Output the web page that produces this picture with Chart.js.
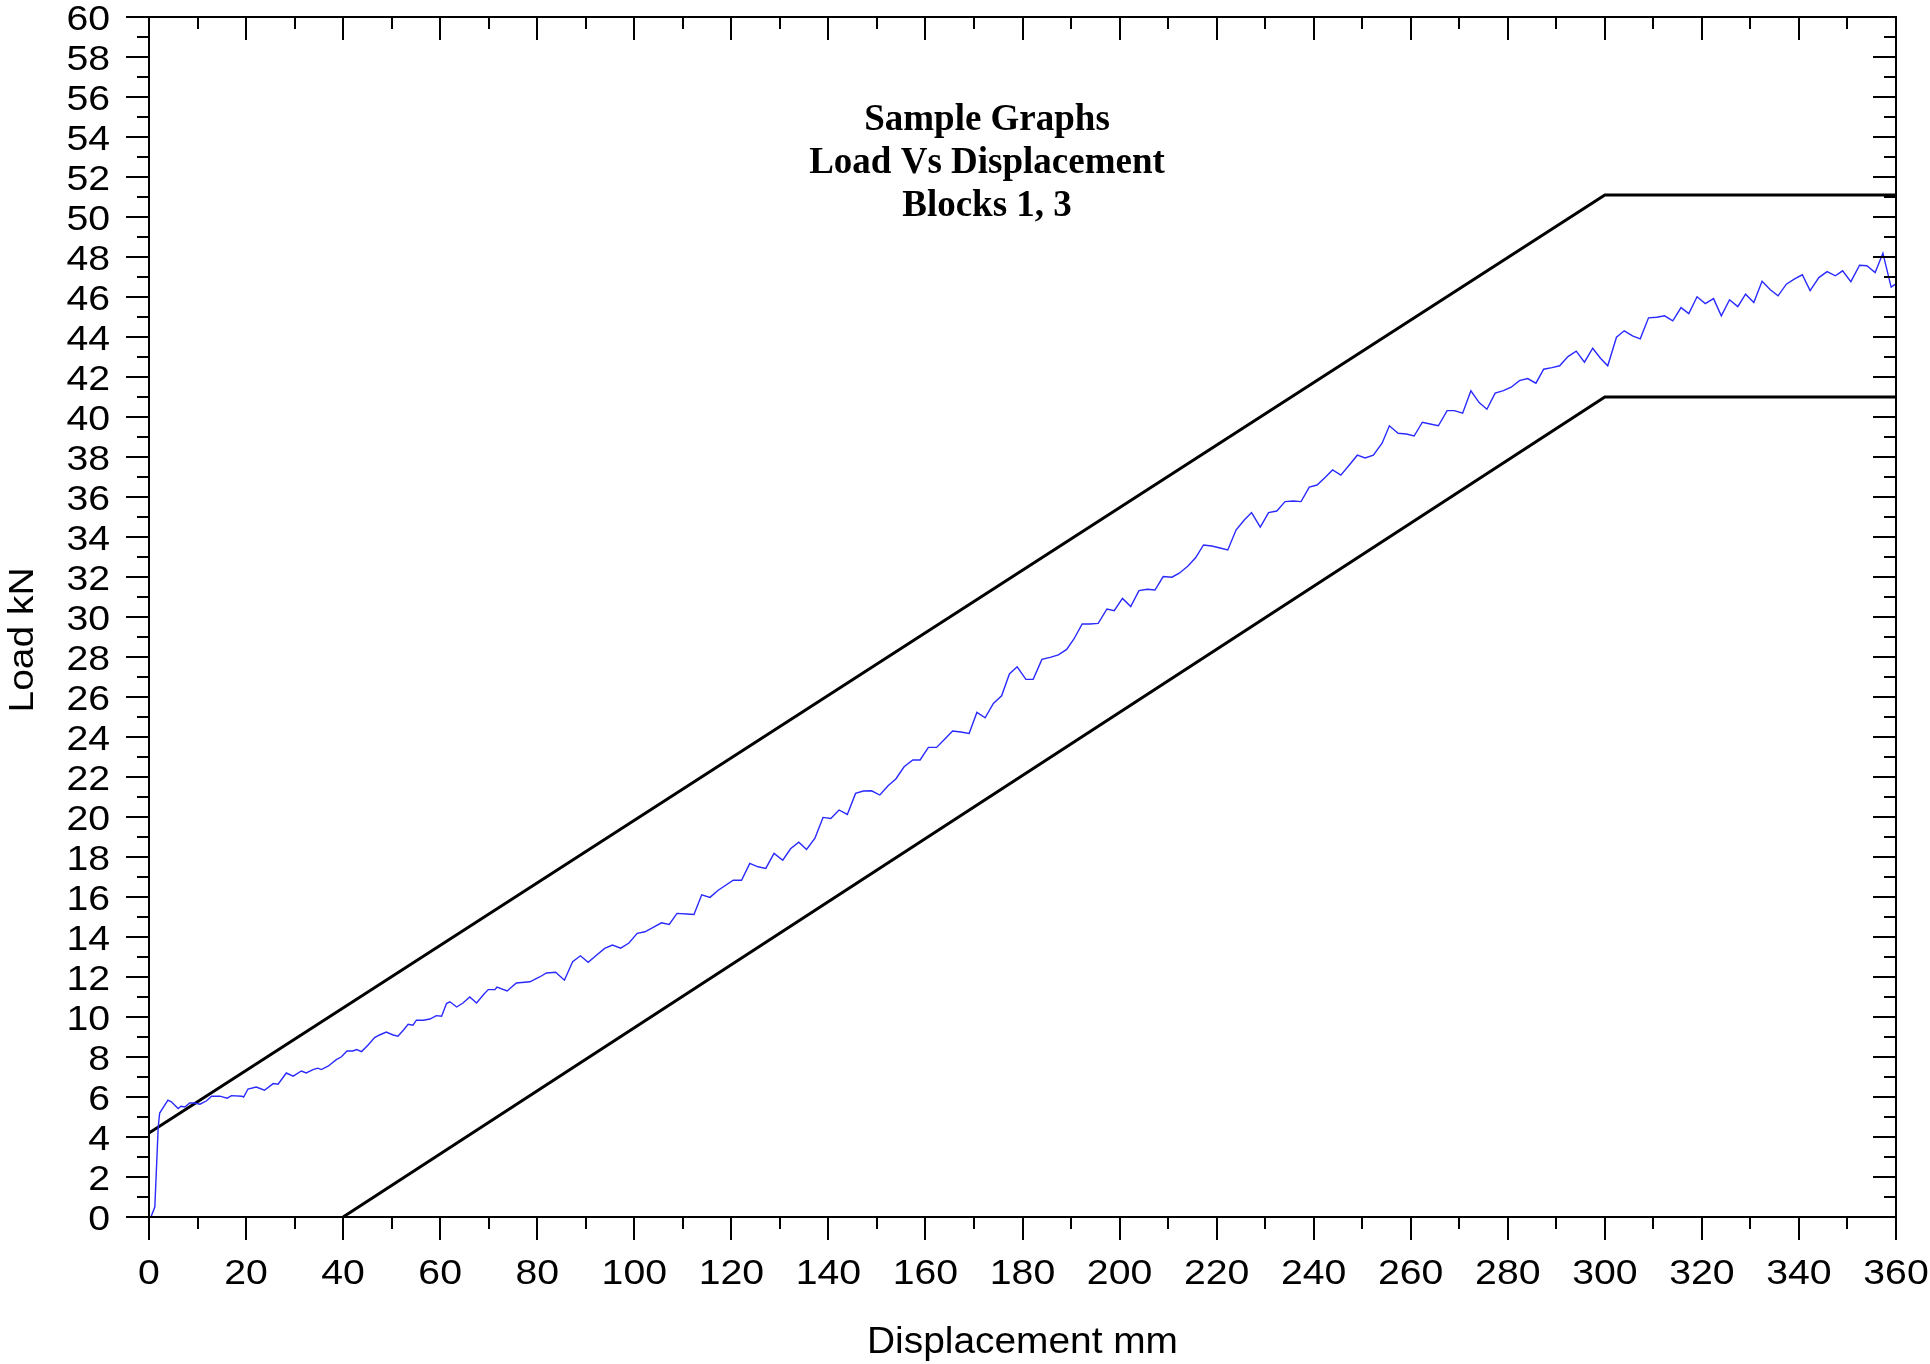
<!DOCTYPE html>
<html>
<head>
<meta charset="utf-8">
<title>Load Vs Displacement</title>
<script src="https://cdn.jsdelivr.net/npm/chart.js@4.4.1/dist/chart.umd.min.js"></script>
<style>
  html, body { margin: 0; padding: 0; background: #fff; }
  canvas { display: block; }
</style>
</head>
<body>
<canvas id="loadChart" width="1930" height="1364"></canvas>
<script>
// measured test curve (mm, kN)
const displacement = [
  0.4, 1.2, 1.9, 2.2, 3.9, 4.6, 6.0, 6.6, 7.4, 8.4, 9.4, 10.5, 11.8, 12.9, 14.6, 16.1, 17.0, 19.1, 19.5,
  20.4, 22.1, 23.8, 25.6, 26.6, 28.3, 29.7, 31.4, 32.4, 33.8, 34.8, 35.5, 36.9, 38.6, 39.6,
  40.8, 42.0, 42.8, 43.8, 45.1, 46.5, 47.5, 48.9, 50.3, 51.3, 52.4, 53.4, 54.4, 55.1, 56.5, 57.9, 59.2,
  60.3, 61.3, 62.0, 63.4, 64.7, 66.1, 67.5, 69.0, 69.9, 71.3, 71.7, 73.8, 75.7, 78.5,
  80.5, 81.9, 83.8, 85.6, 87.3, 88.9, 90.5, 92.2, 93.9, 95.5, 97.2, 98.9,
  100.6, 102.2, 103.9, 105.6, 107.2, 108.8, 110.8, 112.3, 113.9, 115.6, 117.3,
  120.4, 122.1, 123.8, 125.5, 127.1, 128.8, 130.6, 132.2, 133.9, 135.5, 137.2, 138.9,
  140.5, 142.2, 143.9, 145.6, 147.2, 148.9, 150.6, 152.3, 153.9, 155.6, 157.4, 158.9,
  160.6, 162.3, 164.0, 165.6, 167.3, 169.0, 170.6, 172.3, 174.0, 175.7, 177.3, 178.9,
  180.7, 182.2, 184.0, 185.7, 187.4, 189.1, 190.6, 192.3, 193.9, 195.6, 197.4, 198.9,
  200.6, 202.3, 204.0, 205.7, 207.3, 209.0, 210.8, 212.3, 214.1, 215.7, 217.3, 219.0,
  220.7, 222.3, 224.0, 225.7, 227.2, 229.0, 230.7, 232.4, 234.1, 235.8, 237.4, 239.1,
  240.7, 242.4, 243.9, 245.6, 247.3, 249.0, 250.6, 252.3, 254.1, 255.6, 257.4, 259.1,
  260.7, 262.4, 264.0, 265.7, 267.5, 269.0, 270.7, 272.4, 274.1, 275.7, 277.4, 279.1,
  280.7, 282.4, 284.1, 285.8, 287.4, 289.1, 290.7, 292.4, 294.1, 295.8, 297.5, 299.1,
  300.6, 302.4, 304.0, 305.7, 307.3, 309.0, 310.7, 312.3, 314.0, 315.7, 317.3, 319.0,
  320.7, 322.4, 324.0, 325.7, 327.4, 329.0, 330.7, 332.4, 334.1, 335.7, 337.4, 339.1,
  340.7, 342.3, 344.1, 345.8, 347.5, 349.0, 350.7, 352.5, 354.0, 355.7, 357.3, 359.0, 359.9
];
const load = [
  0.0, 0.5, 4.5, 5.2, 5.84, 5.76, 5.42, 5.54, 5.5, 5.7, 5.7, 5.64, 5.8, 6.04, 6.04, 5.94, 6.07, 6.04, 6.0,
  6.4, 6.5, 6.34, 6.67, 6.64, 7.2, 7.04, 7.3, 7.2, 7.37, 7.44, 7.37, 7.54, 7.87, 8.0,
  8.3, 8.3, 8.37, 8.27, 8.59, 8.97, 9.1, 9.25, 9.1, 9.04, 9.34, 9.64, 9.59, 9.84, 9.84, 9.9, 10.07,
  10.04, 10.67, 10.76, 10.5, 10.7, 11.0, 10.7, 11.14, 11.37, 11.37, 11.5, 11.3, 11.7, 11.76,
  12.0, 12.2, 12.24, 11.84, 12.76, 13.06, 12.73, 13.09, 13.43, 13.6, 13.44, 13.7,
  14.18, 14.26, 14.48, 14.71, 14.63, 15.18, 15.15, 15.13, 16.11, 15.98, 16.34,
  16.84, 16.84, 17.68, 17.51, 17.43, 18.18, 17.84, 18.41, 18.74, 18.38, 18.93, 19.98,
  19.93, 20.35, 20.13, 21.18, 21.3, 21.31, 21.1, 21.56, 21.9, 22.51, 22.85, 22.85,
  23.48, 23.48, 23.9, 24.3, 24.25, 24.18, 25.23, 24.96, 25.68, 26.06, 27.15, 27.51,
  26.88, 26.88, 27.88, 27.98, 28.11, 28.38, 28.9, 29.65, 29.65, 29.68, 30.4, 30.32,
  30.93, 30.52, 31.32, 31.39, 31.35, 32.02, 31.99, 32.19, 32.55, 32.97, 33.6, 33.55,
  33.45, 33.35, 34.35, 34.85, 35.22, 34.49, 35.22, 35.3, 35.77, 35.8, 35.77, 36.49,
  36.6, 36.99, 37.35, 37.09, 37.59, 38.09, 37.95, 38.09, 38.69, 39.56, 39.19, 39.15,
  39.05, 39.74, 39.65, 39.56, 40.32, 40.32, 40.19, 41.31, 40.72, 40.39, 41.19, 41.32,
  41.49, 41.82, 41.92, 41.69, 42.39, 42.47, 42.56, 43.02, 43.29, 42.74, 43.44, 42.94,
  42.56, 43.99, 44.31, 44.06, 43.91, 44.96, 44.99, 45.06, 44.81, 45.47, 45.17, 46.01,
  45.67, 45.92, 45.06, 45.86, 45.52, 46.14, 45.72, 46.79, 46.36, 46.06, 46.64, 46.91,
  47.11, 46.32, 46.97, 47.27, 47.06, 47.31, 46.77, 47.59, 47.56, 47.22, 48.19, 46.49, 46.64
];

// limit envelope
const upperX = [0, 300, 360];
const upperY = [4.2, 51.1, 51.1];
const lowerX = [40, 300, 360];
const lowerY = [0, 41, 41];

const xTicks = [0, 20, 40, 60, 80, 100, 120, 140, 160, 180, 200, 220, 240, 260, 280, 300, 320, 340, 360];
const yTicks = [0, 2, 4, 6, 8, 10, 12, 14, 16, 18, 20, 22, 24, 26, 28, 30,
                32, 34, 36, 38, 40, 42, 44, 46, 48, 50, 52, 54, 56, 58, 60];

const titleLines = ["Sample Graphs", "Load Vs Displacement", "Blocks 1, 3"];
const xTitle = "Displacement mm";
const yTitle = "Load kN";

function toPoints(xs, ys) {
  return xs.map((v, i) => ({ x: v, y: ys[i] }));
}

// text in the picture is a bit wider than the font, so stretch it sideways
function stretchText(ctx, text, x, y, sx, align) {
  ctx.save();
  ctx.translate(x, y);
  ctx.scale(sx, 1);
  ctx.textAlign = align;
  ctx.fillText(text, 0, 0);
  ctx.restore();
}

const framePlugin = {
  id: 'frame',
  afterDatasetsDraw(chart) {
    const ctx = chart.ctx;
    const a = chart.chartArea;
    const xs = chart.scales.x;
    const ys = chart.scales.y;
    const major = 23, minor = 12;

    ctx.save();
    ctx.strokeStyle = '#000';
    ctx.lineWidth = 2;
    ctx.strokeRect(a.left, a.top, a.right - a.left, a.bottom - a.top);

    ctx.beginPath();
    xTicks.forEach((v, i) => {
      const px = Math.round(xs.getPixelForValue(v));
      ctx.moveTo(px, a.bottom); ctx.lineTo(px, a.bottom + major);
      ctx.moveTo(px, a.top); ctx.lineTo(px, a.top + major);
      if (i < xTicks.length - 1) {
        const mx = Math.round(xs.getPixelForValue((v + xTicks[i + 1]) / 2));
        ctx.moveTo(mx, a.bottom); ctx.lineTo(mx, a.bottom + minor);
        ctx.moveTo(mx, a.top); ctx.lineTo(mx, a.top + minor);
      }
    });
    yTicks.forEach((v, i) => {
      const py = Math.round(ys.getPixelForValue(v));
      ctx.moveTo(a.left, py); ctx.lineTo(a.left - major, py);
      ctx.moveTo(a.right, py); ctx.lineTo(a.right - major, py);
      if (i < yTicks.length - 1) {
        const my = Math.round(ys.getPixelForValue((v + yTicks[i + 1]) / 2));
        ctx.moveTo(a.left, my); ctx.lineTo(a.left - minor, my);
        ctx.moveTo(a.right, my); ctx.lineTo(a.right - minor, my);
      }
    });
    ctx.stroke();

    // tick labels
    ctx.fillStyle = '#000';
    ctx.textBaseline = 'alphabetic';
    ctx.font = '35px "Liberation Sans", Arial, sans-serif';
    yTicks.forEach(v => {
      stretchText(ctx, String(v), a.left - 39, ys.getPixelForValue(v) + 12.5, 1.12, 'right');
    });
    xTicks.forEach(v => {
      stretchText(ctx, String(v), xs.getPixelForValue(v), a.bottom + 67, 1.12, 'center');
    });

    // axis titles
    ctx.font = '36px "Liberation Sans", Arial, sans-serif';
    let w = ctx.measureText(xTitle).width;
    stretchText(ctx, xTitle, (a.left + a.right) / 2, a.bottom + 136, 311 / w, 'center');

    ctx.font = '35px "Liberation Sans", Arial, sans-serif';
    w = ctx.measureText(yTitle).width;
    ctx.save();
    ctx.translate(33, 640);
    ctx.rotate(-Math.PI / 2);
    ctx.scale(145 / w, 1);
    ctx.textAlign = 'center';
    ctx.fillText(yTitle, 0, 0);
    ctx.restore();

    // chart title block
    ctx.font = 'bold 37px "Liberation Serif", "Times New Roman", serif';
    titleLines.forEach((line, i) => {
      stretchText(ctx, line, a.left + 838, a.top + 113 + i * 43, 1.0, 'center');
    });
    ctx.restore();
  }
};

new Chart(document.getElementById('loadChart'), {
  type: 'line',
  data: {
    datasets: [
      {
        label: 'Load',
        data: toPoints(displacement, load),
        borderColor: '#2a2aff',
        borderWidth: 1.4,
        pointRadius: 0,
        tension: 0
      },
      {
        label: 'Upper limit',
        data: toPoints(upperX, upperY),
        borderColor: '#000',
        borderWidth: 3,
        pointRadius: 0,
        tension: 0
      },
      {
        label: 'Lower limit',
        data: toPoints(lowerX, lowerY),
        borderColor: '#000',
        borderWidth: 3,
        pointRadius: 0,
        tension: 0
      }
    ]
  },
  options: {
    responsive: false,
    animation: false,
    devicePixelRatio: 1,
    layout: { padding: { left: 149, right: 34, top: 17, bottom: 147 } },
    plugins: {
      legend: { display: false },
      tooltip: { enabled: false },
      title: { display: false }
    },
    scales: {
      x: { type: 'linear', min: 0, max: 360, display: false },
      y: { type: 'linear', min: 0, max: 60, display: false }
    }
  },
  plugins: [framePlugin]
});
</script>
</body>
</html>
